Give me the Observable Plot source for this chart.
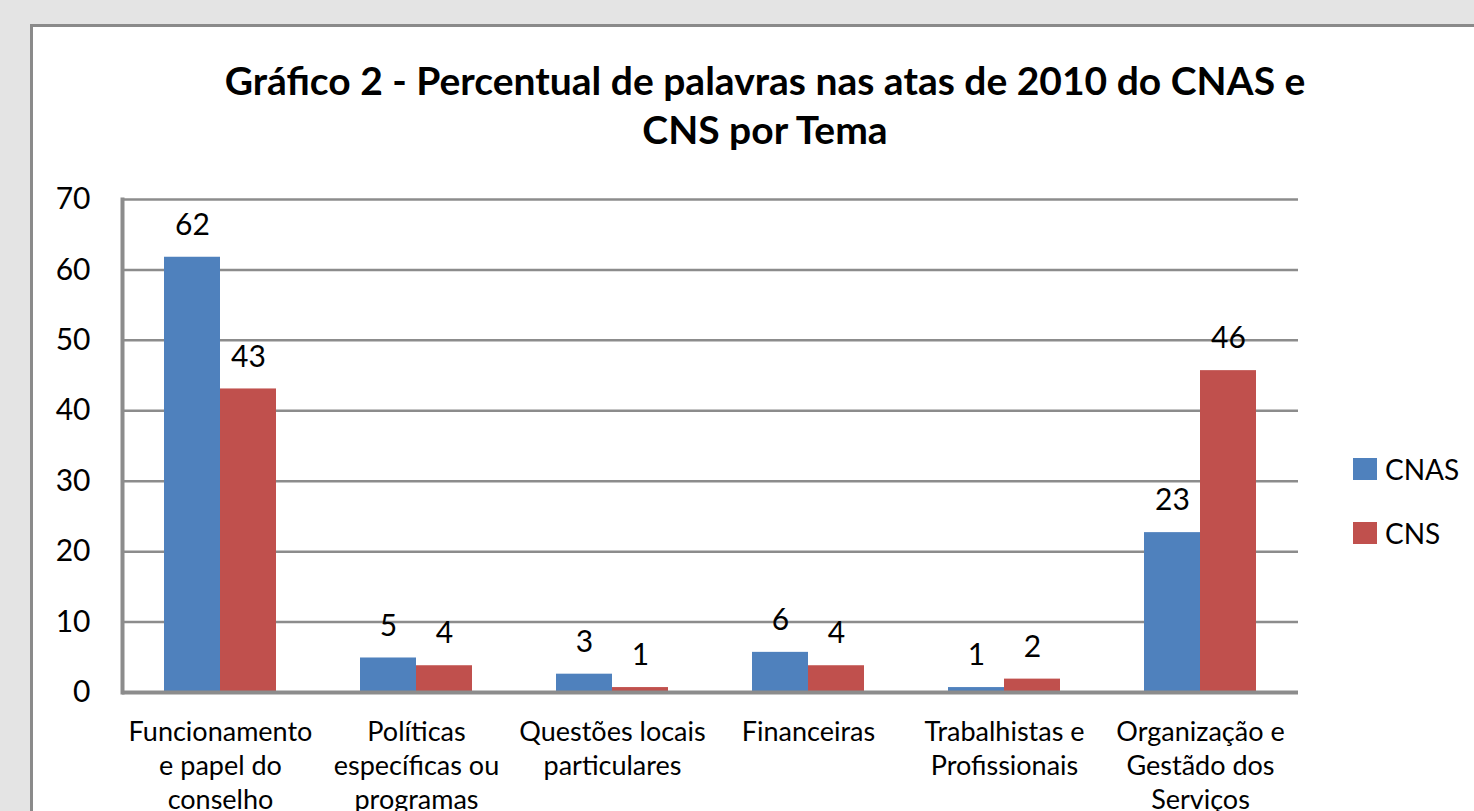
<!DOCTYPE html>
<html><head><meta charset="utf-8">
<script src="https://cdn.jsdelivr.net/npm/d3@7"></script>
<script src="https://cdn.jsdelivr.net/npm/@observablehq/plot@0.6"></script>
<style>
html,body{margin:0;padding:0;width:1474px;height:811px;overflow:hidden;background:#e4e4e4;font-family:Lato,"Open Sans",sans-serif;color:#000;}
#panel{position:absolute;left:30px;top:24px;width:1500px;height:900px;background:#fff;border-left:3px solid #8a8a8a;border-top:3px solid #8a8a8a;}
#title{position:absolute;left:30px;width:1470px;top:56px;text-align:center;font-weight:700;font-size:39px;line-height:49px;}
#chart{position:absolute;left:0;top:0;}
#legend{position:absolute;left:1353px;top:0;}
.lg{position:absolute;left:0;display:flex;align-items:center;font-size:28px;white-space:nowrap;height:22px;}
.sw{display:inline-block;width:24px;height:22px;margin-right:8px;}
</style>
</head><body>
<div id="panel"></div>
<div id="title">Gráfico 2 - Percentual de palavras nas atas de 2010 do CNAS e<br>CNS por Tema</div>
<div id="chart"></div>
<div id="legend"></div>
<script>
const categories = ["Funcionamento\ne papel do\nconselho", "Políticas\nespecíficas ou\nprogramas", "Questões locais\nparticulares", "Financeiras", "Trabalhistas e\nProfissionais", "Organização e\nGestãdo dos\nServiços"];
const series = ["CNAS", "CNS"];
const cnasValues = [61.8, 4.9, 2.6, 5.7, 0.7, 22.7];
const cnsValues = [43.1, 3.8, 0.7, 3.8, 1.9, 45.7];
const yTicks = [0, 10, 20, 30, 40, 50, 60, 70];
const colors = ["#4F81BD", "#C0504D"];

const rows = [];
categories.forEach((c, i) => {
  rows.push({tema: c, serie: series[0], valor: cnasValues[i]});
  rows.push({tema: c, serie: series[1], valor: cnsValues[i]});
});

const chart = Plot.plot({
  width: 1474, height: 811,
  marginLeft: 122, marginRight: 176, marginTop: 199, marginBottom: 119,
  style: {background: "transparent", fontFamily: "Lato, 'Open Sans', sans-serif", color: "#000"},
  fx: {domain: categories, padding: 0, label: null},
  x: {domain: series, paddingInner: 0, paddingOuter: 0.735, axis: null},
  y: {domain: [0, 70], label: null},
  color: {domain: series, range: colors},
  marks: [
    Plot.ruleY(yTicks.filter(d => d > 0), {stroke: "#8c8c8c", strokeWidth: 2.5}),
    Plot.barY(rows, {fx: "tema", x: "serie", y: "valor", fill: "serie"}),
    Plot.ruleY([0], {stroke: "#8c8c8c", strokeWidth: 4}),
    Plot.frame({anchor: "left", facetAnchor: "left", stroke: "#8c8c8c", strokeWidth: 4}),
    Plot.text(rows, {fx: "tema", x: "serie", y: "valor", text: d => String(Math.round(d.valor)), dy: -32, fontSize: 30, lineAnchor: "middle", fill: "#000"}),
    Plot.axisY({ticks: yTicks, tickSize: 0, tickPadding: 32, fontSize: 30, label: null, fill: "#000"}),
    Plot.axisFx({anchor: "bottom", tickSize: 0, tickPadding: 24, fontSize: 27, lineHeight: 1.27, label: null, lineAnchor: "top", fill: "#000"})
  ]
});
document.getElementById("chart").appendChild(chart);

const legend = d3.select("#legend");
const legendTops = [458, 522];
series.forEach((s, i) => {
  const item = legend.append("div").attr("class", "lg").style("top", legendTops[i] + "px");
  item.append("span").attr("class", "sw").style("background", colors[i]);
  item.append("span").text(s);
});
</script>
</body></html>
